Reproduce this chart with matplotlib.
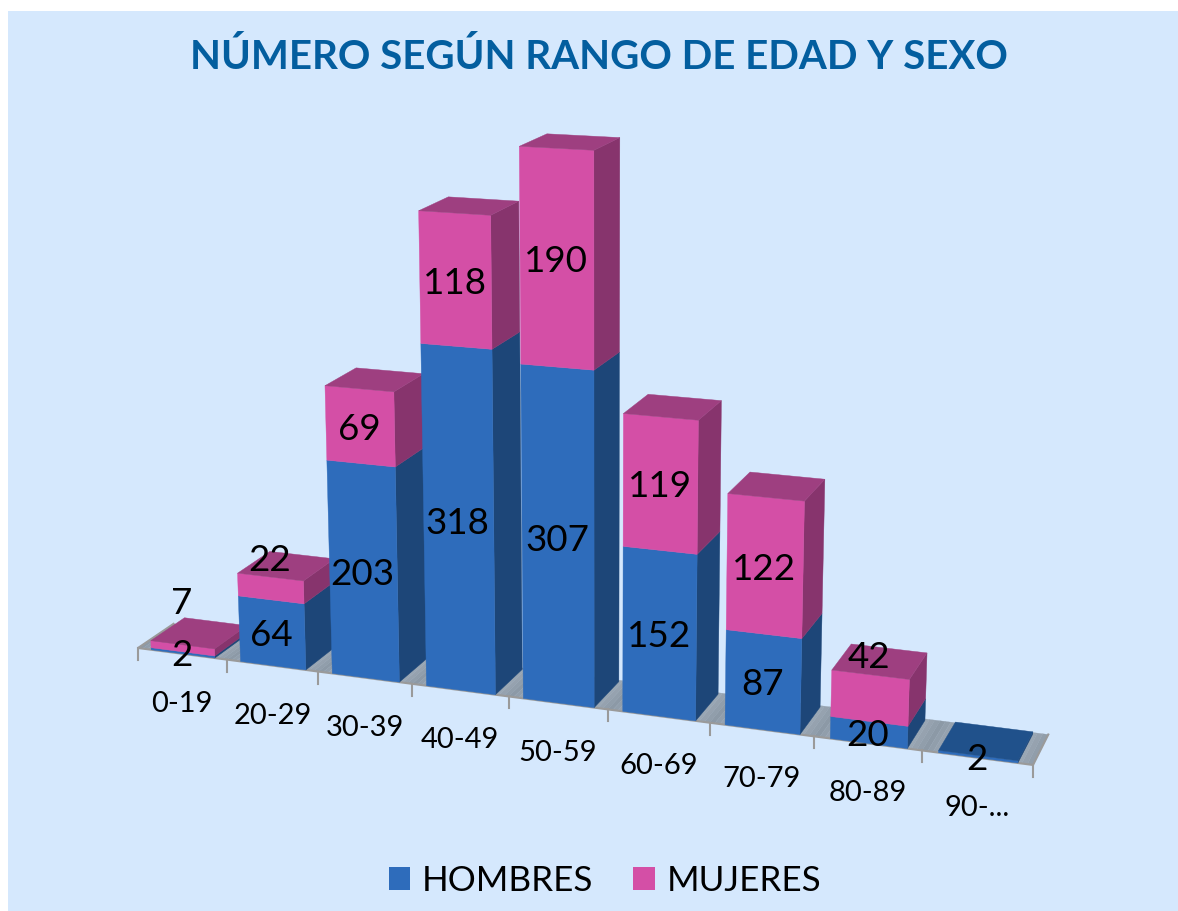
import numpy as np
import matplotlib
matplotlib.use('Agg')
import matplotlib.pyplot as plt
from matplotlib.collections import PolyCollection
from matplotlib.patches import Polygon, Rectangle

# data
rangos = ['0-19', '20-29', '30-39', '40-49', '50-59', '60-69', '70-79', '80-89', '90-...']
hombres = [2, 64, 203, 318, 307, 152, 87, 20, 2]
mujeres = [7, 22, 69, 118, 190, 119, 122, 42, 0]

# labels that were pushed above the bar in the original
mujeres_dy = [-48, -31, 0, 0, 0, 0, 0, -44, 0]

titulo = 'NÚMERO SEGÚN RANGO DE EDAD Y SEXO'

# colours (front, side, top)
azul = ['#2E6CBB', '#1D4678', '#20518B']
rosa = ['#D44FA6', '#87346D', '#9E3F80']
fondo = '#D5E8FD'

plt.rcParams['font.family'] = ['Lato', 'DejaVu Sans']

# perspective view of the (category, depth, value) box, in pixels
# a row for screen x, one for screen y, one for the homogeneous w
VISTA = np.array([[138.0, 86.06, 38.0, -0.057],
                  [649.0, 3.07, -8.0, -1.065],
                  [1.0, -0.01296, 0.024, -0.000095]])


def proyecta(cat, prof, val):
    p = VISTA @ np.array([1.0, cat, prof, val])
    return p[0] / p[2], p[1] / p[2]


def caja(ax, i, v0, v1, colores, a=0.15, b=0.865, z=0):
    # side first, then top, then front
    frente = [proyecta(i + a, 0, v0), proyecta(i + b, 0, v0),
              proyecta(i + b, 0, v1), proyecta(i + a, 0, v1)]
    lado = [proyecta(i + b, 0, v0), proyecta(i + b, 1, v0),
            proyecta(i + b, 1, v1), proyecta(i + b, 0, v1)]
    tapa = [proyecta(i + a, 0, v1), proyecta(i + b, 0, v1),
            proyecta(i + b, 1, v1), proyecta(i + a, 1, v1)]
    ax.add_patch(Polygon(lado, fc=colores[1], ec=colores[1], lw=0.3, zorder=z))
    ax.add_patch(Polygon(frente, fc=colores[0], ec=colores[0], lw=0.3, zorder=z))
    return tapa


fig = plt.figure(figsize=(11.78, 9.12), dpi=100)
ax = fig.add_axes([0, 0, 1, 1])
ax.set_xlim(0, 1178)
ax.set_ylim(912, 0)
ax.axis('off')

ax.add_patch(Rectangle((8, 12), 1170, 900, fc=fondo, ec='none', zorder=0))

# floor, shaded cell by cell
n = len(rangos)
tiras = []
tonos = []
for i in range(n):
    for t in np.linspace(0, 0.95, 20):
        tiras.append([proyecta(i + t, 0, 0), proyecta(i + t + 0.05, 0, 0),
                      proyecta(i + t + 0.05, 1.05, 0), proyecta(i + t, 1.05, 0)])
        g = 0.55 + 0.12 * np.sin(np.pi * t)
        tonos.append((g, g + 0.05, g + 0.10))
ax.add_collection(PolyCollection(tiras, facecolors=tonos, edgecolors='face', linewidths=0.2, zorder=1))
borde = [proyecta(0, 1.05, 0), proyecta(0, 0, 0), proyecta(n, 0, 0), proyecta(n, 1.05, 0)]
ax.plot(*zip(*borde), color='#9A9A9A', lw=1.5, zorder=2)
for i in range(n + 1):
    x, y = proyecta(i, 0, 0)
    ax.plot([x, x], [y, y + 12], color='#9A9A9A', lw=1.5, zorder=2)

# bars, left to right so each one covers the side of the last
for i in range(n):
    z = 3 + i
    tapa = caja(ax, i, 0, hombres[i], azul, z=z)
    color_tapa = azul[2]
    if mujeres[i] > 0:
        tapa = caja(ax, i, hombres[i], hombres[i] + mujeres[i], rosa, z=z)
        color_tapa = rosa[2]
    ax.add_patch(Polygon(tapa, fc=color_tapa, ec=color_tapa, lw=0.3, zorder=z))

# value labels
for i in range(n):
    x, y = proyecta(i + 0.5, 0, hombres[i] / 2)
    ax.text(x, y + 2, str(hombres[i]), ha='center', va='center', fontsize=26.5, color='black', zorder=20)
    if mujeres[i] > 0:
        x, y = proyecta(i + 0.5, 0, hombres[i] + mujeres[i] / 2)
        ax.text(x, y + 2 + mujeres_dy[i], str(mujeres[i]), ha='center', va='center', fontsize=26.5, color='black', zorder=20)

# category labels
for i, r in enumerate(rangos):
    x, y = proyecta(i + 0.5, 0, 0)
    ax.text(x, y + 49, r, ha='center', va='center', fontsize=21, color='black', zorder=20)

ax.text(599, 57, titulo, ha='center', va='center', fontsize=29, fontweight='bold', color='#035E9F')

# legend
h1 = Rectangle((0, 0), 1, 1, fc=azul[0])
h2 = Rectangle((0, 0), 1, 1, fc=rosa[0])
ax.legend([h1, h2], ['HOMBRES', 'MUJERES'], ncol=2, frameon=False, fontsize=25.2,
          loc='center', bbox_to_anchor=(605 / 1178, 1 - 881.5 / 912), handlelength=0.62, handleheight=0.62,
          handletextpad=0.34, columnspacing=1.13, labelcolor='black')

plt.savefig('out.png', dpi=100)
